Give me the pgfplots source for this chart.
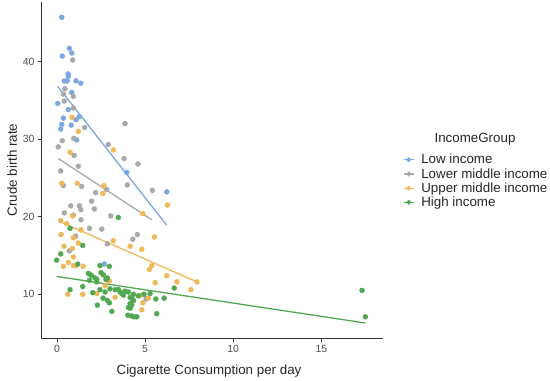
\documentclass[border=0pt]{standalone}
\usepackage{pgfplots}
\pgfplotsset{compat=1.18}
\usepackage{fontspec}
\setmainfont{Liberation Sans}
\definecolor{blueC}{HTML}{7DA7E3}
\definecolor{grayC}{HTML}{A9A9A9}
\definecolor{orangeC}{HTML}{EFB85A}
\definecolor{greenC}{HTML}{52A852}
\definecolor{tickC}{HTML}{4D4D4D}
\begin{document}
\begin{tikzpicture}
\path[use as bounding box] (-41.5bp,-42.7bp) rectangle (508.5bp,338.3bp);
\begin{axis}[
  scale only axis,
  width=341.5bp, height=336.3bp,
  xmin=-0.88, xmax=18.5, ymin=4.33, ymax=47.67,
  axis lines*=left,
  axis line style={black!80, line width=0.7bp},
  xtick={0,5,10,15}, ytick={10,20,30,40},
  tick align=outside, major tick length=3.5bp,
  tick style={black!80, line width=0.7bp},
  /pgf/number format/assume math mode=true,
  ticklabel style={font=\fontsize{10.5}{12}\selectfont, text=tickC},
  xlabel={Cigarette Consumption per day},
  ylabel={Crude birth rate},
  every axis x label/.style={at={(axis description cs:0.4905,-0.0972)},anchor=center},
  every axis y label/.style={at={(axis description cs:-0.0864,0.5004)},anchor=center,rotate=90},
  label style={font=\fontsize{13.4}{15}\selectfont, text=black!85},
  legend style={at={(axis description cs:1.0586,0.551)}, anchor=north west, draw=none, fill=none,
    font=\fontsize{13.4}{14.7}\selectfont, text=black!85, row sep=1bp, inner sep=0bp,
    nodes={inner sep=1bp}},
  legend cell align=left,
  clip=false,
]
\addplot[only marks, mark=*, mark size=2.5bp, color=blueC, mark options={draw=none, fill=blueC}, forget plot] coordinates {
(0.27,45.7)(0.30,40.7)(0.70,41.7)(0.84,41.1)(0.63,38.4)(0.64,38.1)(0.41,37.5)(0.57,37.5)(1.08,37.5)(1.35,37.2)(0.84,36.0)(0.04,34.6)(0.64,33.8)(0.36,32.7)(1.27,32.9)(1.08,32.5)(0.27,31.9)(0.81,31.8)(0.21,31.3)(1.12,29.9)(3.96,25.7)(6.23,23.2)(2.69,13.9)
};
\addplot[only marks, mark=*, mark size=2.5bp, color=grayC, mark options={draw=none, fill=grayC}, forget plot] coordinates {
(0.89,40.2)(0.45,36.5)(0.36,35.8)(0.93,35.5)(0.41,34.9)(0.93,34.0)(1.57,31.5)(3.86,32.0)(0.30,29.8)(0.95,30.1)(0.07,29.0)(2.91,29.3)(0.97,27.9)(3.81,27.5)(4.59,26.8)(1.21,26.5)(0.21,25.9)(0.36,24.0)(1.40,23.9)(2.82,23.5)(3.99,24.1)(5.41,23.4)(2.19,23.1)(1.97,22.0)(0.78,21.4)(1.27,21.4)(1.35,20.9)(2.12,21.0)(0.41,20.5)(3.05,20.1)(1.36,19.6)(0.93,20.2)(1.84,18.5)(2.54,18.4)(1.06,17.5)(4.56,17.7)(4.30,17.1)(2.86,16.5)(0.70,15.6)(5.06,9.4)
};
\addplot[only marks, mark=*, mark size=2.5bp, color=orangeC, mark options={draw=none, fill=orangeC}, forget plot] coordinates {
(0.85,32.8)(1.21,31.0)(3.20,28.6)(0.74,28.3)(0.27,24.3)(1.15,24.3)(2.67,24.0)(2.60,23.0)(6.27,21.5)(0.89,20.1)(4.87,20.4)(0.21,19.5)(0.55,19.1)(1.36,18.3)(0.23,17.7)(0.93,17.3)(3.20,16.9)(5.53,17.4)(1.21,16.6)(0.40,16.2)(4.15,16.2)(4.81,15.8)(0.87,15.9)(0.93,14.8)(0.64,14.1)(0.36,13.6)(0.93,13.7)(1.08,13.7)(1.49,13.6)(5.38,13.7)(5.24,13.2)(6.23,12.4)(6.80,11.6)(7.94,11.6)(5.57,11.5)(7.60,10.6)(2.97,11.7)(2.73,11.1)(1.46,10.0)(0.61,10.0)(3.30,9.6)(4.79,9.9)(4.87,8.9)(4.81,8.0)(2.26,10.1)(5.19,9.5)
};
\addplot[only marks, mark=*, mark size=2.5bp, color=greenC, mark options={draw=none, fill=greenC}, forget plot] coordinates {
(3.48,19.9)(1.46,16.3)(0.74,18.5)(0.21,15.2)(-0.02,14.4)(1.18,13.9)(2.44,13.7)(2.97,13.6)(1.84,12.6)(1.97,12.4)(2.50,12.8)(2.63,12.5)(2.16,12.1)(2.86,12.1)(2.25,11.6)(1.84,11.8)(1.46,11.0)(2.44,10.6)(3.01,10.7)(3.48,10.6)(3.86,10.4)(4.05,10.3)(3.58,10.3)(2.73,10.3)(0.74,10.6)(2.03,10.2)(2.61,9.5)(3.77,9.9)(4.34,10.0)(4.15,9.6)(4.62,9.8)(4.94,10.0)(5.28,10.1)(2.86,9.2)(4.15,8.8)(4.34,9.2)(2.97,8.9)(2.29,8.6)(4.05,8.3)(3.11,7.8)(4.02,7.3)(4.24,7.2)(4.39,7.1)(4.53,7.1)(5.61,9.4)(6.08,9.5)(6.65,10.8)(5.66,7.5)(17.31,10.5)(17.5,7.1)(1.78,12.7)(2.26,11.9)(2.78,11.9)(3.30,10.6)(3.68,10.1)(4.24,9.5)(4.24,8.6)(4.15,8.2)
};
\addplot[blueC, line width=1.3bp, forget plot] coordinates {(0.04,36.8)(6.23,18.9)};
\addplot[grayC, line width=1.3bp, forget plot] coordinates {(0.07,27.5)(5.38,19.6)};
\addplot[orangeC, line width=1.3bp, forget plot] coordinates {(0.13,19.4)(7.94,11.6)};
\addplot[greenC, line width=1.3bp, forget plot] coordinates {(-0.02,12.3)(17.5,6.3)};
\pgfplotsset{my legend/.style={mark=*, mark size=1.8bp, line width=1.1bp, legend image code/.code={\draw[mark repeat=2,mark phase=2] plot coordinates {(0bp,0bp) (5bp,0bp) (10bp,0bp)}; \path (16bp,0bp);}}}
\addlegendimage{my legend, color=blueC}
\addlegendentry{Low income}
\addlegendimage{my legend, color=grayC}
\addlegendentry{Lower middle income}
\addlegendimage{my legend, color=orangeC}
\addlegendentry{Upper middle income}
\addlegendimage{my legend, color=greenC}
\addlegendentry{High income}
\end{axis}
\node[font=\fontsize{13.4}{15}\selectfont, text=black!85, anchor=center] at (433.5bp,199.3bp) {IncomeGroup};
\end{tikzpicture}
\end{document}
